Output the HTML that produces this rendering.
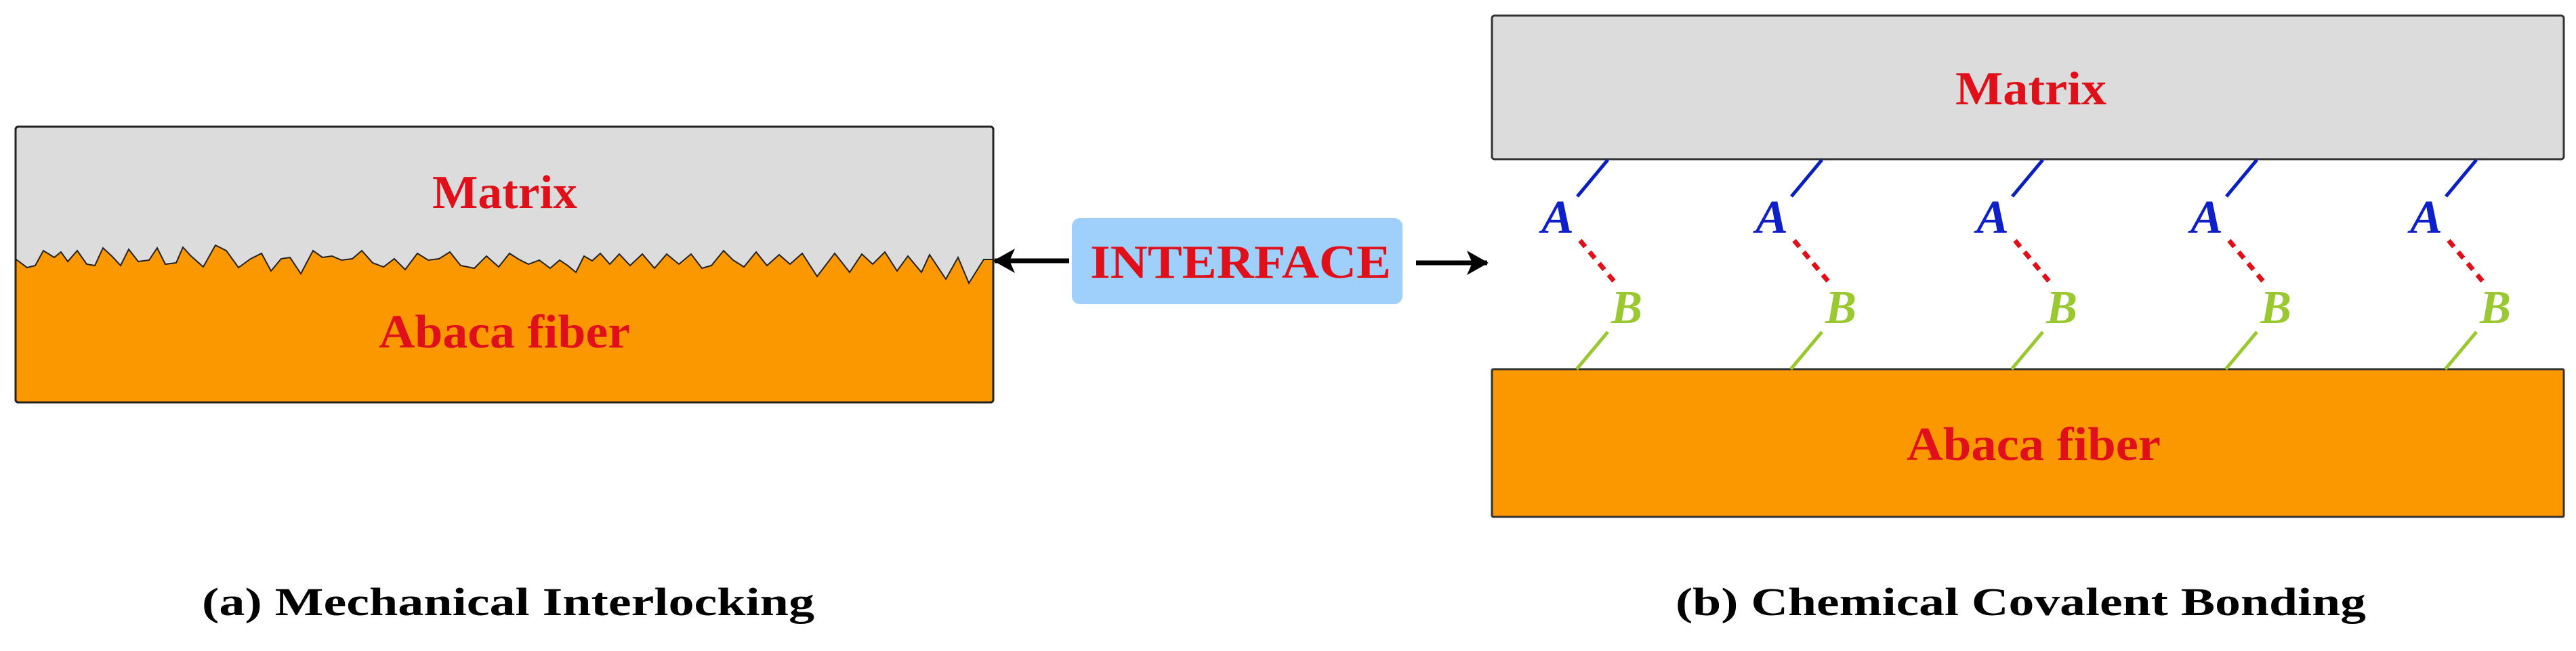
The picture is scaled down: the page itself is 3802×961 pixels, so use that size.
<!DOCTYPE html>
<html><head><meta charset="utf-8"><style>html,body{margin:0;padding:0;background:#fff;}svg{display:block;}</style></head>
<body>
<svg width="3802" height="961" viewBox="0 0 3802 961" xmlns="http://www.w3.org/2000/svg" font-family="'Liberation Serif', serif">
<defs>
<marker id="ah" markerWidth="32" markerHeight="40" refX="30" refY="20" orient="auto" markerUnits="userSpaceOnUse"><path d="M0,2 L32,20 L0,38 L8,20 z" fill="#000"/></marker>
</defs>
<!-- Left panel -->
<rect x="23" y="187" width="1443" height="407" rx="4" fill="#dcdcdc" stroke="#222" stroke-width="3"/>
<path d="M24,383 L40,395 L52,392 L64,370 L80,380 L90,372 L100,386 L114,370 L128,390 L140,392 L152,366 L165,378 L178,392 L190,368 L204,386 L220,384 L232,366 L244,390 L260,388 L270,365 L282,378 L300,394 L318,362 L334,370 L352,395 L370,382 L386,374 L400,400 L415,382 L428,380 L444,404 L462,370 L476,380 L490,378 L504,384 L520,382 L534,370 L550,388 L566,394 L582,382 L598,398 L616,374 L632,384 L648,382 L664,372 L680,392 L700,396 L718,378 L736,394 L752,374 L766,383 L780,390 L796,384 L812,396 L826,384 L838,392 L850,402 L862,378 L874,385 L886,374 L900,390 L914,375 L930,392 L948,375 L966,396 L984,375 L1002,390 L1020,375 L1036,396 L1050,392 L1068,370 L1082,384 L1098,394 L1116,372 L1132,392 L1150,376 L1166,390 L1184,374 L1206,408 L1232,374 L1254,402 L1272,375 L1288,390 L1306,372 L1324,400 L1340,378 L1360,402 L1372,376 L1396,412 L1414,380 L1430,418 L1452,383 L1466,383 L1466,594 L23,594 Z" fill="#fb9800" stroke="none"/>
<path d="M24,383 L40,395 L52,392 L64,370 L80,380 L90,372 L100,386 L114,370 L128,390 L140,392 L152,366 L165,378 L178,392 L190,368 L204,386 L220,384 L232,366 L244,390 L260,388 L270,365 L282,378 L300,394 L318,362 L334,370 L352,395 L370,382 L386,374 L400,400 L415,382 L428,380 L444,404 L462,370 L476,380 L490,378 L504,384 L520,382 L534,370 L550,388 L566,394 L582,382 L598,398 L616,374 L632,384 L648,382 L664,372 L680,392 L700,396 L718,378 L736,394 L752,374 L766,383 L780,390 L796,384 L812,396 L826,384 L838,392 L850,402 L862,378 L874,385 L886,374 L900,390 L914,375 L930,392 L948,375 L966,396 L984,375 L1002,390 L1020,375 L1036,396 L1050,392 L1068,370 L1082,384 L1098,394 L1116,372 L1132,392 L1150,376 L1166,390 L1184,374 L1206,408 L1232,374 L1254,402 L1272,375 L1288,390 L1306,372 L1324,400 L1340,378 L1360,402 L1372,376 L1396,412 L1414,380 L1430,418 L1452,383 L1466,383" fill="none" stroke="#222" stroke-width="2"/>
<rect x="23" y="187" width="1443" height="407" rx="4" fill="none" stroke="#222" stroke-width="3"/>
<text x="638" y="307" font-size="70" font-weight="bold" fill="#e0101a" textLength="214" lengthAdjust="spacingAndGlyphs">Matrix</text>
<text x="559" y="513" font-size="70" font-weight="bold" fill="#e0101a" textLength="371" lengthAdjust="spacingAndGlyphs">Abaca fiber</text>

<!-- Interface -->
<rect x="1582" y="322" width="488" height="127" rx="12" fill="#9fcffb"/>
<text x="1609" y="410" font-size="70" font-weight="bold" fill="#e0101a" textLength="444" lengthAdjust="spacingAndGlyphs">INTERFACE</text>
<line x1="1578" y1="385" x2="1468" y2="385" stroke="#000" stroke-width="7" marker-end="url(#ah)"/>
<line x1="2090" y1="388" x2="2195" y2="388" stroke="#000" stroke-width="7" marker-end="url(#ah)"/>

<!-- Right panel -->
<rect x="2202" y="23" width="1582" height="212" rx="4" fill="#dcdcdc" stroke="#333" stroke-width="3"/>
<rect x="2202" y="545" width="1582" height="218" rx="2" fill="#fb9800" stroke="#333" stroke-width="3"/>
<text x="2886" y="154" font-size="70" font-weight="bold" fill="#e0101a" textLength="223" lengthAdjust="spacingAndGlyphs">Matrix</text>
<text x="2814" y="679" font-size="70" font-weight="bold" fill="#e0101a" textLength="375" lengthAdjust="spacingAndGlyphs">Abaca fiber</text>

<g id="b0">
<line x1="2373" y1="236" x2="2328" y2="290" stroke="#0a1fc0" stroke-width="5"/>
<text x="2275" y="344" font-size="70" font-style="italic" font-weight="bold" fill="#1020c8" textLength="48" lengthAdjust="spacingAndGlyphs">A</text>
<line x1="2332" y1="355" x2="2382" y2="415" stroke="#e0101a" stroke-width="7" stroke-dasharray="12,10"/>
<text x="2378" y="477" font-size="70" font-style="italic" font-weight="bold" fill="#9ac830" textLength="46" lengthAdjust="spacingAndGlyphs">B</text>
<line x1="2373" y1="490" x2="2327" y2="545" stroke="#9ac830" stroke-width="5"/>
</g>
<use href="#b0" x="316"/>
<use href="#b0" x="642"/>
<use href="#b0" x="958"/>
<use href="#b0" x="1282"/>

<!-- captions -->
<text x="298" y="908" font-size="58" font-weight="bold" fill="#000" textLength="904" lengthAdjust="spacingAndGlyphs">(a) Mechanical Interlocking</text>
<text x="2473" y="908" font-size="58" font-weight="bold" fill="#000" textLength="1019" lengthAdjust="spacingAndGlyphs">(b) Chemical Covalent Bonding</text>
</svg>
</body></html>
